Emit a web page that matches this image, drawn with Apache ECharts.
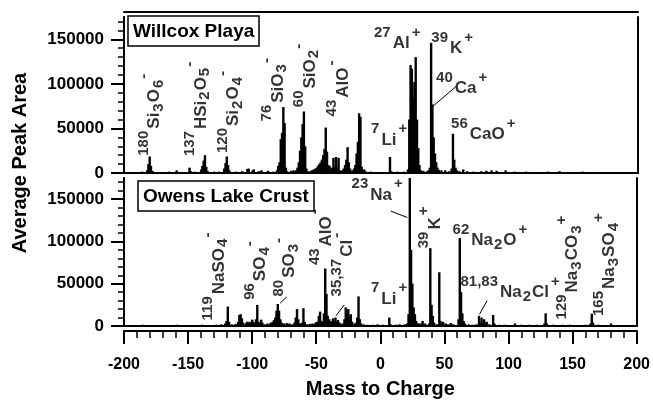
<!DOCTYPE html>
<html><head><meta charset="utf-8">
<script src="https://cdn.jsdelivr.net/npm/echarts@6/dist/echarts.min.js"></script>
<style>html,body{margin:0;padding:0;background:#fff}#c{width:653px;height:400px}</style>
</head><body><div id="c"></div>
<script>
// ---------- data ----------
const xTickLabels = [-200, -150, -100, -50, 0, 50, 100, 150, 200];
const yTickLabels = [0, 50000, 100000, 150000];
const panelNames = ['Willcox Playa', 'Owens Lake Crust'];
const xTitle = 'Mass to Charge';
const yTitle = 'Average Peak Area';

const willcoxMz = [-190,-186,-182,-181,-180,-179,-178,-170,-165,-159,-155,-149,-148,-145,-140,-139,-138,-137,-136,-135,-130,-126,-122,-121,-120,-119,-118,-113,-108,-104,-103,-100,-99,-95,-93,-88,-84,-81,-80,-79,-78,-77,-76,-75,-74,-73,-70,-68,-66,-65,-64,-63,-62,-61,-60,-59,-58,-56,-54,-53,-52,-51,-50,-49,-48,-47,-46,-45,-44,-43,-42,-41,-40,-39,-38,-37,-36,-35,-34,-33,-32,-31,-30,-29,-28,-27,-26,-25,-24,-23,-22,-21,-20,-19,-18,-17,-16,-15,-14,-13,-12,-8,-4,2,7,8,13,18,21,22,23,24,25,26,27,28,29,30,31,33,36,37,38,39,40,41,42,43,44,45,47,50,53,55,56,57,58,59,61,64,67,72,78,82,86,90,97,104,113,120,130,139,150,157,170,183,195];
const willcoxArea = [1000,1500,3000,10000,18500,8000,2500,1000,1500,3000,1200,6000,2000,1500,4000,8000,14000,20000,7000,2500,1500,1500,5000,11000,18500,9000,3000,1500,2000,4500,5000,3000,4000,2000,3000,2500,1500,3000,8000,12000,38000,45000,74000,56000,6000,2000,2500,3000,3000,6000,12000,25000,40000,55000,69000,30000,5000,2000,3000,3500,4000,5000,6000,8000,10000,12000,15000,20000,27000,51000,24000,9000,8000,4000,6000,17000,7000,18000,6000,17000,3000,2000,3000,5000,9000,15000,29000,12000,5000,2000,3000,5000,9000,22000,35000,67000,63000,7000,3000,4000,2000,1500,1000,1000,18000,2000,1500,1500,4000,60000,121000,117000,85000,102000,130000,60000,28000,9000,3000,2500,2000,3000,6000,146000,77000,40000,22000,12000,6000,3500,3000,3000,2000,5000,44000,15000,6000,3000,2000,4000,2000,1500,2000,2500,3000,2500,3000,1500,1500,1200,1500,2000,1200,1500,1200,1000,1000];

const owensMz = [-195,-190,-185,-178,-170,-165,-159,-152,-145,-139,-133,-128,-124,-121,-120,-119,-118,-116,-113,-111,-110,-109,-108,-107,-105,-104,-103,-102,-101,-100,-99,-98,-97,-96,-95,-94,-93,-92,-90,-88,-86,-85,-84,-83,-82,-81,-80,-79,-78,-77,-75,-73,-71,-69,-67,-66,-65,-64,-63,-62,-61,-60,-59,-57,-55,-53,-51,-50,-49,-48,-47,-46,-45,-44,-43,-42,-41,-40,-39,-38,-37,-36,-35,-34,-33,-32,-31,-29,-28,-27,-26,-25,-24,-23,-22,-20,-19,-18,-17,-16,-15,-13,-10,-6,-2,2,7,8,12,15,19,21,22,23,24,25,26,27,28,29,30,32,33,35,38,39,40,41,42,44,46,47,48,49,51,53,55,57,61,62,63,64,65,66,69,72,75,77,78,79,80,81,82,83,85,88,89,93,97,105,110,116,122,128,129,130,135,142,148,155,160,164,165,166,170,175,180,186,193];
const owensArea = [1000,1200,1500,1000,1200,1000,1500,1000,1200,1500,1000,1500,2000,3000,6000,23000,5000,2000,2500,5000,13000,14000,9000,4000,3000,5000,4000,5000,4000,7500,5000,3000,8000,25000,5000,3000,7500,4000,2000,3000,3000,4000,5000,7000,10000,18000,26000,18000,8000,4000,3000,3500,3000,2000,4000,10000,20000,8000,3000,3000,4000,21000,5000,2000,2500,3000,3000,4500,5000,12000,17000,6000,5000,15000,68000,38000,12000,8000,6000,5000,9000,6000,10000,5000,7000,4000,3000,3000,8000,22000,15000,20000,12000,14000,5000,3000,4000,10000,35000,8000,3000,2000,1500,1500,2000,1500,10000,2000,1500,2000,2000,3000,14000,175000,90000,50000,22000,14000,6000,3000,3000,3000,6000,3000,3000,92000,25000,12000,4000,2000,63500,6000,3000,5000,3000,2000,3500,2000,8000,104000,40000,15000,6000,3000,2000,1500,2000,12000,4000,10000,3000,8000,3000,5000,2000,13000,3000,1500,1500,3000,1500,1500,1500,3000,15000,3000,1500,1500,1500,1200,1500,3000,14500,4000,1500,1200,3000,1000,1000];

// peak annotations: anchor [m/z, area], rich text, rotation
const willcoxNotes = [
  [-179, 62000, '{sup|180}{main|Si}{sub|3}{main|O}{sub|6}{sup|-}', 90],
  [-142.7, 68500, '{sup|137}{main|HSi}{sub|2}{main|O}{sub|5}{sup|-}', 90],
  [-117.6, 65000, '{sup|120}{main|Si}{sub|2}{main|O}{sub|4}{sup|-}', 90],
  [-83, 90000, '{sup|76}{main|SiO}{sub|3}{sup|-}', 90],
  [-58.1, 106000, '{sup|60}{main|SiO}{sub|2}{sup|-}', 90],
  [-32.4, 91500, '{sup|43}{main|AlO}{sup|-}', 90],
  [6.4, 45500, '{sup|7}{main|Li}{sup|+}', 0],
  [12.6, 153500, '{sup|27}{main|Al}{sup|+}', 0],
  [55.4, 148000, '{sup|39}{main|K}{sup|+}', 0],
  [62.8, 103000, '{sup|40}{main|Ca}{sup|+}', 0],
  [79.6, 51300, '{sup|56}{main|CaO}{sup|+}', 0]
];
const owensNotes = [
  [-128.4, 55000, '{sup|119}{main|NaSO}{sub|4}{sup|-}', 90],
  [-96.2, 62000, '{sup|96}{main|SO}{sub|4}{sup|-}', 90],
  [-73.6, 66000, '{sup|80}{main|SO}{sub|3}{sup|-}', 90],
  [-44.9, 101500, '{sup|43}{main|AlO}{sup|-}', 90],
  [-28.1, 69000, '{sup|35,37}{main|Cl}{sup|-}', 90],
  [6.8, 41000, '{sup|7}{main|Li}{sup|+}', 0],
  [-2.5, 163500, '{sup|23}{main|Na}{sup|+}', 0],
  [39.8, 113000, '{sup|39}{main|K}{sup|+}', 90],
  [85.5, 110000, '{sup|62}{main|Na}{sub|2}{main|O}{sup|+}', 0],
  [101.3, 48500, '{sup|81,83}{main|Na}{sub|2}{main|Cl}{sup|+}', 0],
  [147.3, 65500, '{sup|129}{main|Na}{sub|3}{main|CO}{sub|3}{sup|+}', 90],
  [176, 69000, '{sup|165}{main|Na}{sub|3}{main|SO}{sub|4}{sup|+}', 90]
];
// leader lines [from m/z, from area, to m/z, to area]
const willcoxLeaders = [[58.2, 96800, 40.5, 75000]];
const owensLeaders = [[-73, 34500, -78.2, 27000], [-28.2, 25000, -34.6, 12000], [8.2, 135800, 21.1, 128300], [83.3, 30000, 77.4, 13800]];

// ---------- chart ----------
const FONT = '"Liberation Sans", Arial, Helvetica, sans-serif';
const minorY = []; for (let v = 0; v <= 170000; v += 10000) minorY.push(v);
const chart = echarts.init(document.getElementById('c'), null, {renderer: 'canvas'});

const rich = {
  main: {fontSize: 17, fontWeight: 'bold', fontFamily: FONT, color: '#000', verticalAlign: 'top', padding: [10, 1, 0, 1], lineHeight: 30},
  sup: {fontSize: 15, fontWeight: 'bold', fontFamily: FONT, color: '#000', verticalAlign: 'top', padding: [0, 1, 0, 1], lineHeight: 30},
  sub: {fontSize: 15, fontWeight: 'bold', fontFamily: FONT, color: '#000', verticalAlign: 'top', padding: [15, 0, 0, 0], lineHeight: 30}
};
const line2 = {onZero: false, lineStyle: {color: '#000', width: 2}};

function yAxesFor(g) {
  return [
    {gridIndex: g, type: 'value', min: 0, max: 175000, position: 'left',
     axisLine: {show: true, ...line2}, splitLine: {show: false},
     axisTick: {show: true, length: 6, customValues: minorY, lineStyle: {color: '#000', width: 1.5}},
     axisLabel: {show: true, customValues: yTickLabels, formatter: v => String(v), margin: 20, color: '#000', fontSize: 17, fontWeight: 'bold', fontFamily: FONT}},
    {gridIndex: g, type: 'value', min: 0, max: 175000, position: 'left',
     axisLine: {show: true, ...line2}, splitLine: {show: false},
     axisTick: {show: true, length: 13, customValues: yTickLabels, lineStyle: {color: '#000', width: 2}},
     axisLabel: {show: false}},
    {gridIndex: g, type: 'value', min: 0, max: 175000, position: 'right',
     axisLine: {show: true, ...line2}, splitLine: {show: false}, axisTick: {show: false}, axisLabel: {show: false}}
  ];
}
const xBase = {type: 'value', min: -200, max: 200, splitLine: {show: false}};

function notesSeries(notes, leaders, xi, yi) {
  return {
    type: 'scatter', xAxisIndex: xi, yAxisIndex: yi, symbolSize: 0, z: 5, silent: true,
    data: notes.map(n => ({value: [n[0], n[1]], label: {show: true, position: 'inside', rotate: n[3], offset: n[3] ? [3, 0] : [0, 4], formatter: n[2], align: 'center', verticalAlign: 'middle', lineHeight: 30, rich: rich}})),
    markLine: {silent: true, symbol: 'none', animation: false, label: {show: false},
      lineStyle: {color: '#000', width: 1, type: 'solid'},
      data: leaders.map(l => [{coord: [l[0], l[1]]}, {coord: [l[2], l[3]]}])}
  };
}

const option = {
  animation: false,
  backgroundColor: '#fff',
  grid: [
    {left: 124, right: 15, top: 17, height: 156},
    {left: 124, right: 15, top: 178, height: 156}
  ],
  title: [
    {text: panelNames[0], left: 128, top: 16, borderColor: '#000', borderWidth: 1.5, padding: [6, 5, 5, 5],
     textStyle: {fontSize: 19, fontWeight: 'bold', fontFamily: FONT, color: '#000'}},
    {text: panelNames[1], left: 138, top: 181, borderColor: '#000', borderWidth: 1.5, padding: [6, 5, 5, 5],
     textStyle: {fontSize: 19, fontWeight: 'bold', fontFamily: FONT, color: '#000'}}
  ],
  xAxis: [
    {...xBase, gridIndex: 0, position: 'bottom', axisLine: {show: true, ...line2}, axisTick: {show: false}, axisLabel: {show: false}},
    {...xBase, gridIndex: 0, position: 'top', offset: 5, axisLine: {show: true, ...line2}, axisTick: {show: false}, axisLabel: {show: false}},
    {...xBase, gridIndex: 1, position: 'bottom', axisLine: {show: true, ...line2}, axisTick: {show: false}, axisLabel: {show: false}},
    {...xBase, gridIndex: 1, position: 'bottom', offset: 5, interval: 10,
     axisLine: {show: true, ...line2}, axisTick: {show: true, length: 7, lineStyle: {color: '#000', width: 1.5}},
     axisLabel: {show: true, customValues: xTickLabels, margin: 26, color: '#000', fontSize: 16, fontWeight: 'bold', fontFamily: FONT},
     name: xTitle, nameLocation: 'middle', nameGap: 48,
     nameTextStyle: {fontSize: 20, fontWeight: 'bold', fontFamily: FONT, color: '#000'}},
    {...xBase, gridIndex: 1, position: 'bottom', offset: 5, interval: 50,
     axisLine: {show: true, ...line2}, axisTick: {show: true, length: 13, lineStyle: {color: '#000', width: 2}},
     axisLabel: {show: false}}
  ],
  yAxis: [...yAxesFor(0), ...yAxesFor(1)],
  graphic: [
    {type: 'text', x: 20, y: 163, rotation: Math.PI / 2,
     style: {text: yTitle, fontSize: 20, fontWeight: 'bold', fontFamily: FONT, fill: '#000', align: 'center', verticalAlign: 'middle'}}
  ],
  series: [
    {type: 'bar', xAxisIndex: 0, yAxisIndex: 0, barWidth: 2.4, itemStyle: {color: '#000'}, silent: true,
     data: willcoxMz.map((m, i) => [m, willcoxArea[i]])},
    {type: 'bar', xAxisIndex: 2, yAxisIndex: 3, barWidth: 2.4, itemStyle: {color: '#000'}, silent: true,
     data: owensMz.map((m, i) => [m, owensArea[i]])},
    notesSeries(willcoxNotes, willcoxLeaders, 0, 0),
    notesSeries(owensNotes, owensLeaders, 2, 3)
  ]
};
chart.setOption(option);
</script></body></html>
